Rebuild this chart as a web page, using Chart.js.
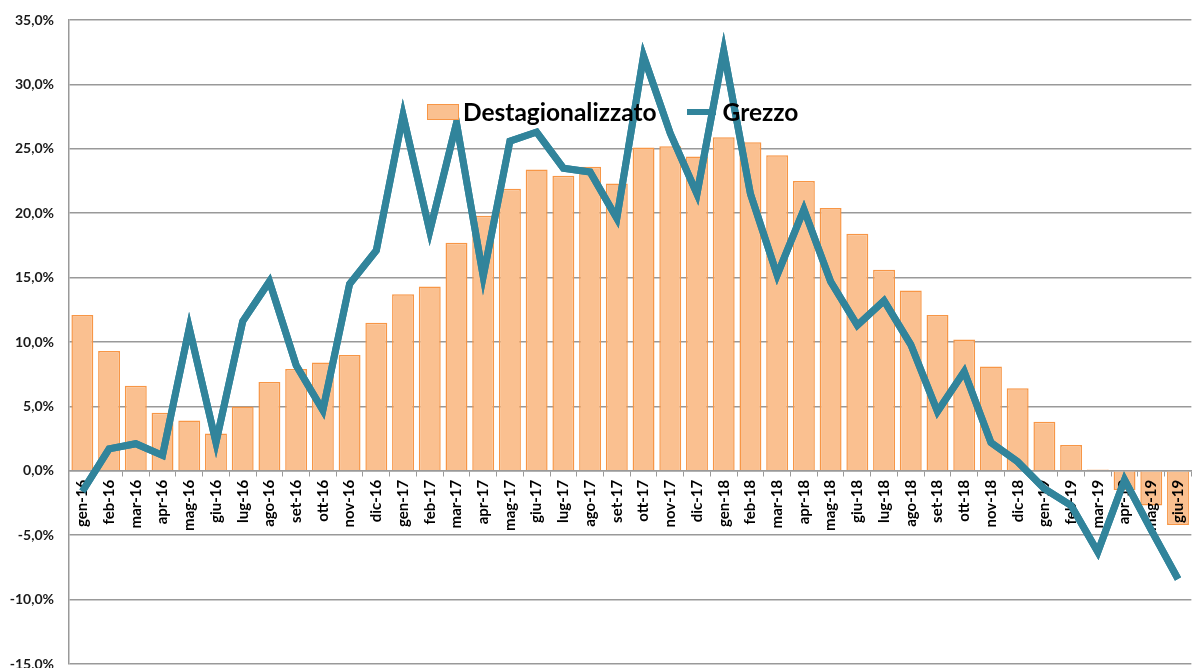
<!DOCTYPE html>
<html>
<head>
<meta charset="utf-8">
<script src="https://cdn.jsdelivr.net/npm/chart.js@4.4.0/dist/chart.umd.min.js"></script>
<style>
  html, body { margin: 0; padding: 0; background: #fff; }
  #wrap { position: relative; width: 1200px; height: 668px; }
  #legenda { position: absolute; left: 427px; top: 97px; font-family: Lato, sans-serif; font-weight: bold; font-size: 24.5px; color: #000; display: flex; align-items: center; white-space: nowrap; }
  #legenda .box { width: 30px; height: 14px; background: #FAC090; border: 1px solid #F79646; margin-right: 4px; }
  #legenda .riga { width: 29px; height: 6px; background: #31849B; margin-left: 30px; margin-right: 7px; }
</style>
</head>
<body>
<div id="wrap">
  <canvas id="chartGrezzo"></canvas>
  <div id="legenda"><span class="box"></span>Destagionalizzato<span class="riga"></span>Grezzo</div>
</div>
<script>
var mesi = ['gen-16', 'feb-16', 'mar-16', 'apr-16', 'mag-16', 'giu-16', 'lug-16', 'ago-16', 'set-16', 'ott-16', 'nov-16', 'dic-16',
  'gen-17', 'feb-17', 'mar-17', 'apr-17', 'mag-17', 'giu-17', 'lug-17', 'ago-17', 'set-17', 'ott-17', 'nov-17', 'dic-17',
  'gen-18', 'feb-18', 'mar-18', 'apr-18', 'mag-18', 'giu-18', 'lug-18', 'ago-18', 'set-18', 'ott-18', 'nov-18', 'dic-18',
  'gen-19', 'feb-19', 'mar-19', 'apr-19', 'mag-19', 'giu-19'];

var destagionalizzato = [12.1, 9.3, 6.6, 4.5, 3.9, 2.9, 5.0, 6.9, 7.9, 8.4, 9.0, 11.5,
  13.7, 14.3, 17.7, 19.8, 21.9, 23.4, 22.9, 23.6, 22.3, 25.1, 25.2, 24.4,
  25.9, 25.5, 24.5, 22.5, 20.4, 18.4, 15.6, 14.0, 12.1, 10.2, 8.1, 6.4,
  3.8, 2.0, 0.1, -1.5, -2.7, -4.2];

var grezzo = [-1.6, 1.7, 2.1, 1.2, 11.1, 2.2, 11.6, 14.7, 8.2, 4.7, 14.5, 17.1,
  27.6, 18.6, 27.0, 15.1, 25.6, 26.3, 23.5, 23.2, 19.6, 32.2, 26.2, 21.5,
  32.6, 21.5, 15.2, 20.3, 14.7, 11.3, 13.2, 9.8, 4.6, 7.7, 2.2, 0.7,
  -1.4, -2.7, -6.3, -0.7, -4.6, -8.4];

// le etichette dei mesi stanno sopra le barre, la linea sopra le etichette
var lineaSopra = {
  id: 'lineaSopra',
  afterDraw: function (chart) {
    var meta = chart.getDatasetMeta(0);
    chart.ctx.save();
    meta.controller.draw();
    chart.ctx.restore();
  }
};

var ctx = document.getElementById('chartGrezzo').getContext('2d');
var myChart = new Chart(ctx, {
  type: 'bar',
  data: {
    labels: mesi,
    datasets: [{
      type: 'line',
      label: 'Grezzo',
      data: grezzo,
      borderColor: '#31849B',
      backgroundColor: '#31849B',
      borderWidth: 7,
      pointRadius: 0,
      tension: 0,
      borderJoinStyle: 'miter',
      order: 1
    }, {
      label: 'Destagionalizzato',
      data: destagionalizzato,
      backgroundColor: '#FAC090',
      borderColor: '#F79646',
      borderWidth: 1.5,
      barPercentage: 0.82,
      categoryPercentage: 1,
      order: 2
    }]
  },
  options: {
    responsive: true,
    maintainAspectRatio: false,
    animation: false,
    layout: { padding: { top: 20, right: 0, bottom: 4, left: 0 } },
    plugins: {
      legend: { display: false },
      tooltip: { enabled: false }
    },
    scales: {
      x: {
        position: { y: 0 },
        afterFit: function (scale) { scale.height = 0; },
        grid: {
          offset: true,
          drawOnChartArea: false,
          drawTicks: true,
          tickLength: 5,
          color: '#999'
        },
        border: { color: '#999', width: 1.5 },
        ticks: {
          z: 1,
          minRotation: 90,
          maxRotation: 90,
          autoSkip: false,
          padding: 4,
          color: '#000',
          font: { family: 'Lato', size: 15, weight: 'bold' }
        }
      },
      y: {
        min: -15,
        max: 35,
        afterFit: function (scale) {
          scale.width = 69;
          scale.paddingTop = 0;
          scale.paddingBottom = 0;
        },
        grid: { color: '#999', lineWidth: 1.5, drawTicks: false },
        border: { color: '#999', width: 1.5 },
        ticks: {
          stepSize: 5,
          padding: 15,
          color: '#1a1a1a',
          font: { family: 'Lato', size: 14, weight: 'bold' },
          callback: function (v) { return v.toFixed(1).replace('.', ',') + '%'; }
        }
      }
    }
  },
  plugins: [lineaSopra]
});
</script>
</body>
</html>
